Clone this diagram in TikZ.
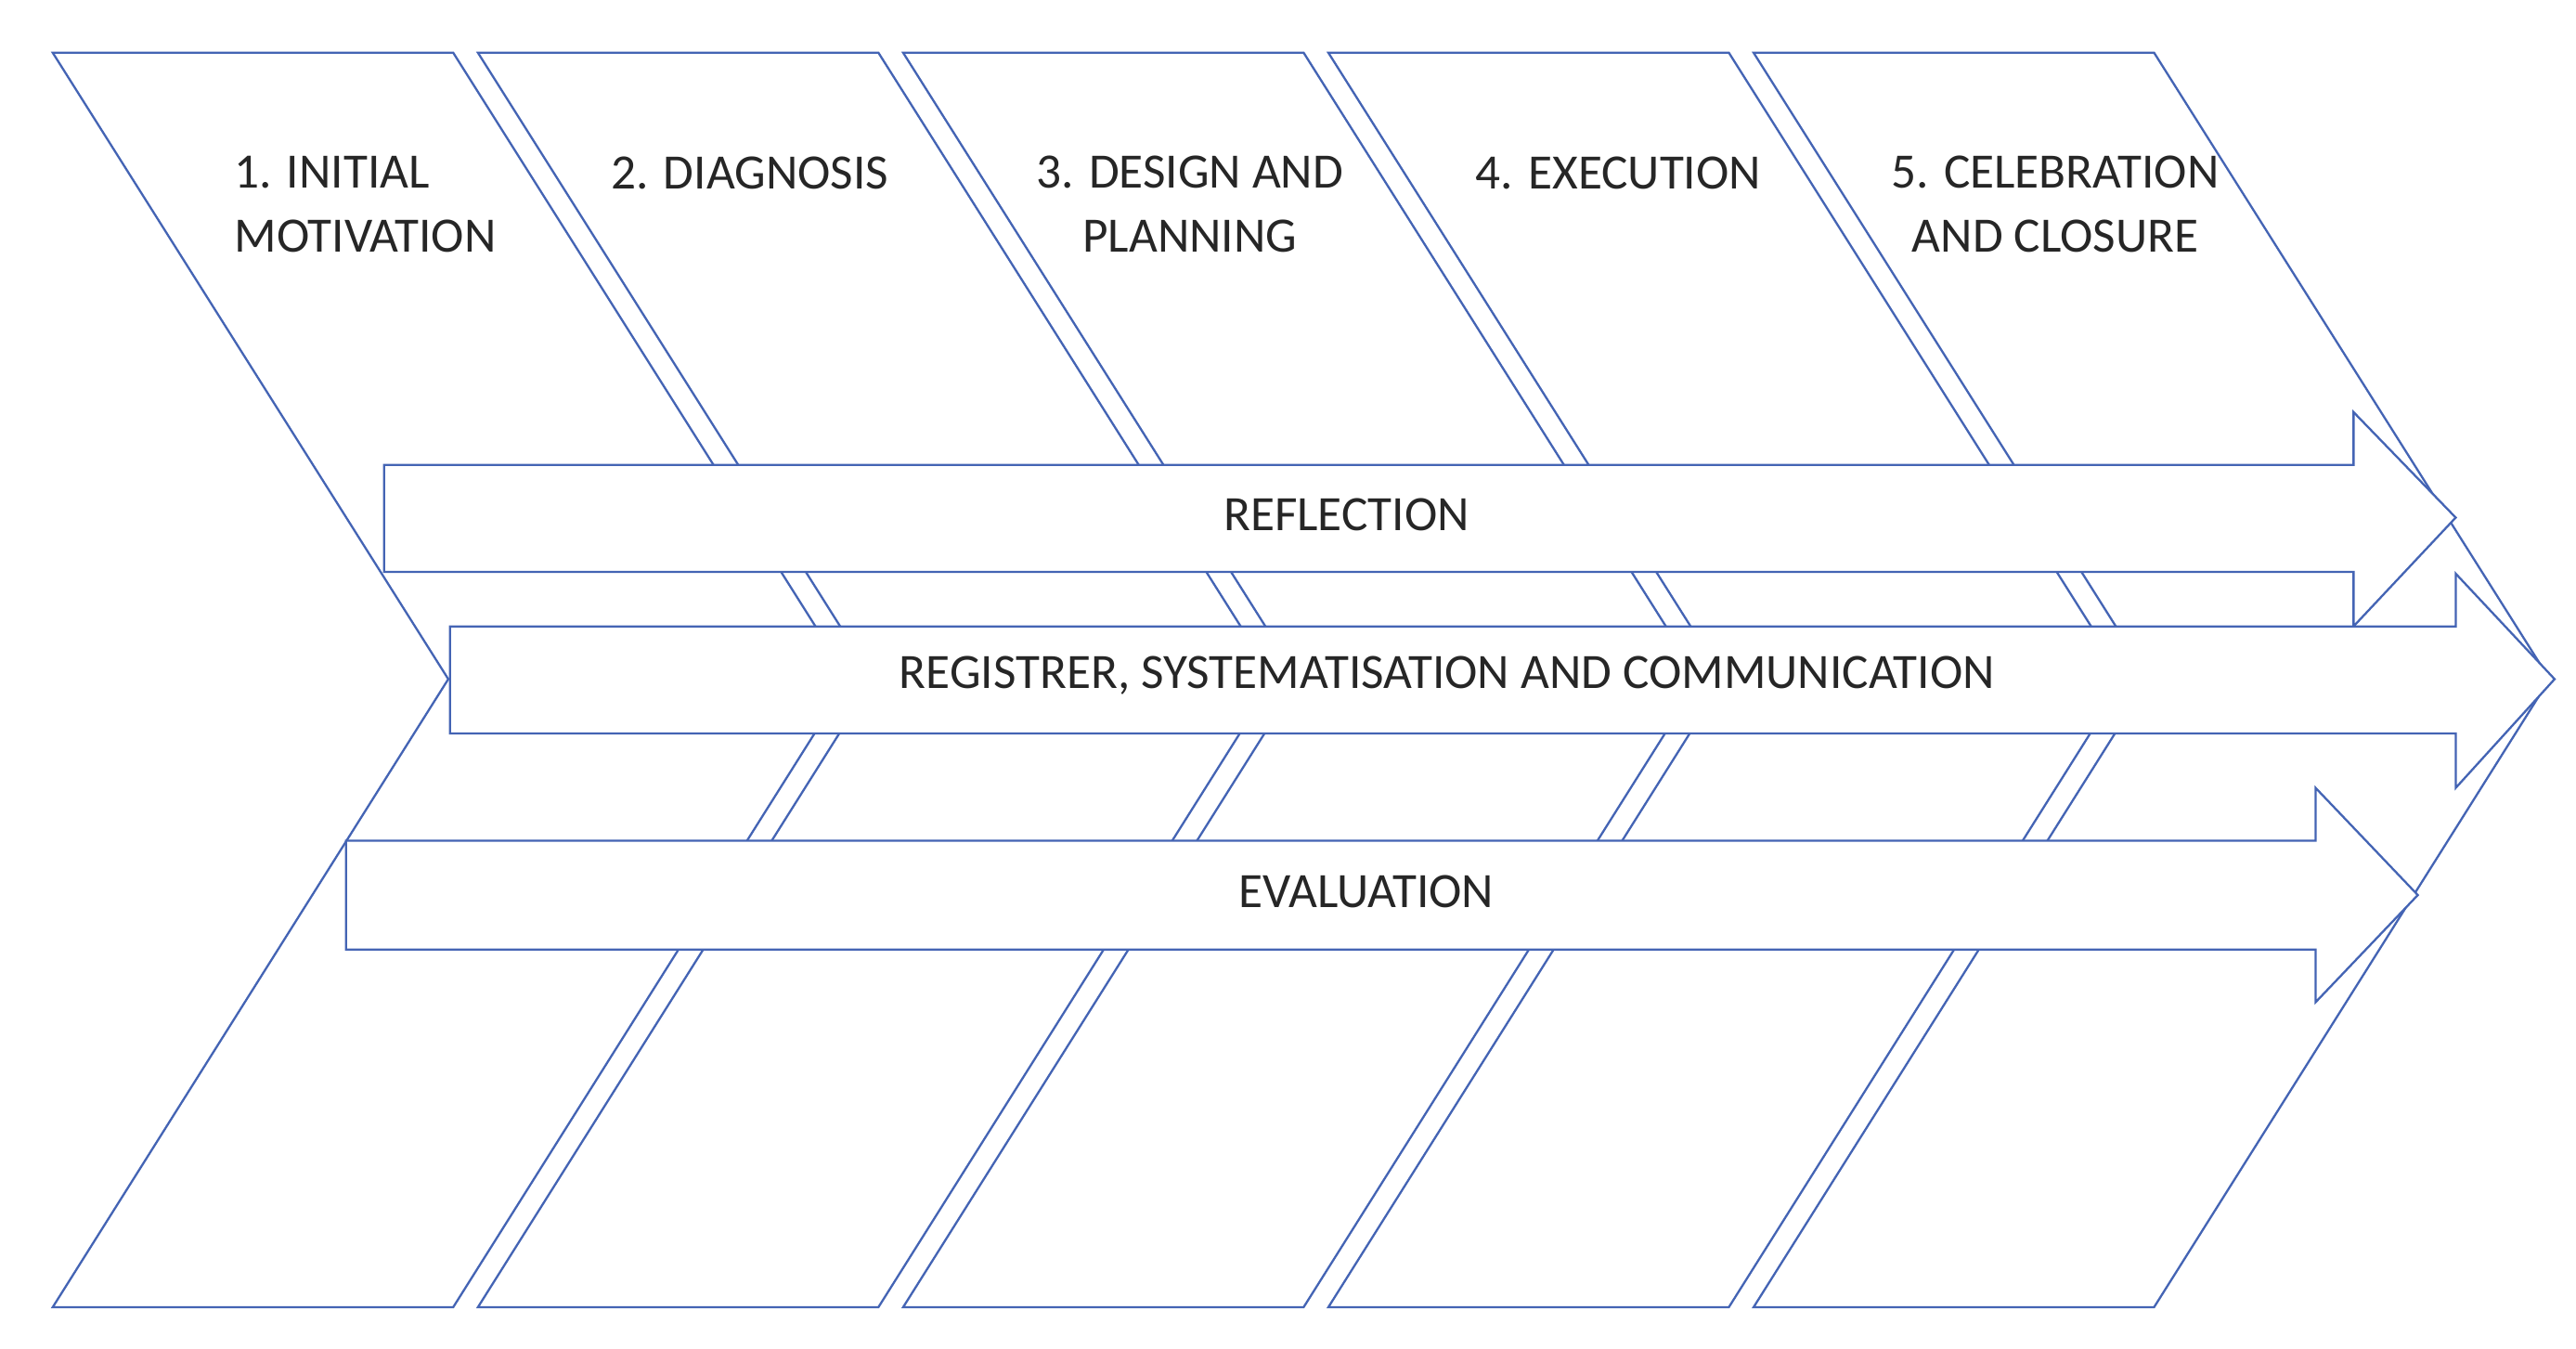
\documentclass[tikz,border=0pt]{standalone}
\usepackage{fontspec}
\setmainfont{Carlito}
\definecolor{ln}{RGB}{68,100,180}
\begin{document}
\begin{tikzpicture}[x=1pt,y=-1pt,
  shp/.style={draw=ln,line width=1.3pt,fill=white,line join=miter},
  lbl/.style={font=\fontsize{30}{39}\selectfont,text=black!85,align=center,inner sep=0}]
\useasboundingbox (0,0) rectangle (1563,818);
\foreach \i in {0,...,4}{
  \pgfmathsetmacro{\xa}{32+258*\i}
  \draw[shp] (\xa,32) -- ++(243,0) -- ++(240,380) -- ++(-240,381) -- ++(-243,0) -- ++(240,-381) -- cycle;
}
% arrows
\draw[shp] (233,282) -- (1428,282) -- (1428,250) -- (1490,314) -- (1428,380) -- (1428,347) -- (233,347) -- cycle;
\draw[shp] (273,380) -- (1490,380) -- (1490,348) -- (1550,412) -- (1490,478) -- (1490,445) -- (273,445) -- cycle;
\draw[shp] (210,510) -- (1405,510) -- (1405,478) -- (1467,543) -- (1405,608) -- (1405,576) -- (210,576) -- cycle;
\node[lbl,align=left,anchor=west] (t1) at (142,124) {1. INITIAL\\MOTIVATION};
\node[lbl] (t2) at (455,105) {2. DIAGNOSIS};
\node[lbl] (t3) at (722,124) {3. DESIGN AND\\PLANNING};
\node[lbl] (t4) at (982,105) {4. EXECUTION};
\node[lbl] (t5) at (1247,124) {5. CELEBRATION\\AND CLOSURE};
\node[lbl] (r1) at (817,312) {REFLECTION};
\node[lbl] (r2) at (878,410) {REGISTRER, SYSTEMATISATION AND COMMUNICATION};
\node[lbl] (r3) at (829,541) {EVALUATION};
\end{tikzpicture}
\end{document}
